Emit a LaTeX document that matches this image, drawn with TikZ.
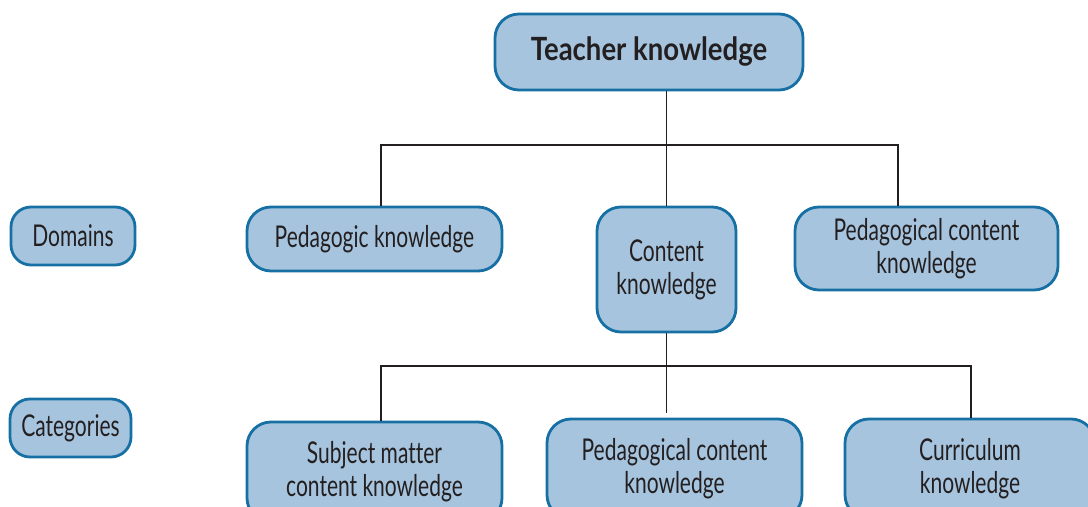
\documentclass[tikz,border=0pt]{standalone}
\usepackage{fontspec}
\setmainfont{Lato}[FakeStretch=0.7, Ligatures=NoCommon, BoldFeatures={FakeStretch=0.86}]
\usetikzlibrary{positioning}
\definecolor{boxfill}{RGB}{166,196,222}
\definecolor{boxline}{RGB}{22,112,164}
\definecolor{ink}{RGB}{35,31,32}

\begin{document}
\begin{tikzpicture}[
  x=0.5pt, y=-0.5pt,
  box/.style={
    draw=boxline, fill=boxfill, line width=1.4pt,
    rounded corners=12pt, text=ink, align=center,
    font=\fontsize{15}{16.5}\selectfont, inner sep=0pt
  },
  label box/.style={box, rounded corners=10pt},
  link/.style={draw=ink, line width=0.6pt}
]
\useasboundingbox (0,0) rectangle (1088,507);

\node[box, minimum width=154pt, minimum height=38pt,
  font=\fontsize{16}{17}\bfseries\selectfont] (teacher) at (649,52) {Teacher knowledge};

\node[label box, minimum width=62pt, minimum height=29pt] (domains) at (73,236) {Domains};
\node[label box, minimum width=60.5pt, minimum height=29pt] (categories) at (70.5,428) {Categories};

\node[box, minimum width=127.5pt, minimum height=32pt] (pedagogic) at (374.5,239) {Pedagogic knowledge};
\node[box, minimum width=69.5pt, minimum height=62.5pt] (content) at (666.5,269.5) {Content\\knowledge};
\node[box, minimum width=131.5pt, minimum height=41.5pt] (pckdomain) at (926.5,248.5) {Pedagogical content\\knowledge};

\node[box, minimum width=127.5pt, minimum height=50pt] (subject) at (374.5,472) {Subject matter\\content knowledge};
\node[box, minimum width=127.5pt, minimum height=50pt] (pckcat) at (674.5,469) {Pedagogical content\\knowledge};
\node[box, minimum width=125pt, minimum height=50pt] (curriculum) at (970,469) {Curriculum\\knowledge};

\coordinate (domain left) at (381,145);
\coordinate (domain right) at (898,145);
\coordinate (category left) at (381,366);
\coordinate (category right) at (971,366);

\draw[link] (content.north |- teacher.south) -- (content.north);
\draw[link] (domain left |- pedagogic.north) -- (domain left) -- (domain right) -- (domain right |- pckdomain.north);
\draw[link] (content.south) -- ([yshift=2.5pt]content.south |- pckcat.north);
\draw[link] (category left |- subject.north) -- (category left) -- (category right) -- (category right |- curriculum.north);
\end{tikzpicture}
\end{document}
